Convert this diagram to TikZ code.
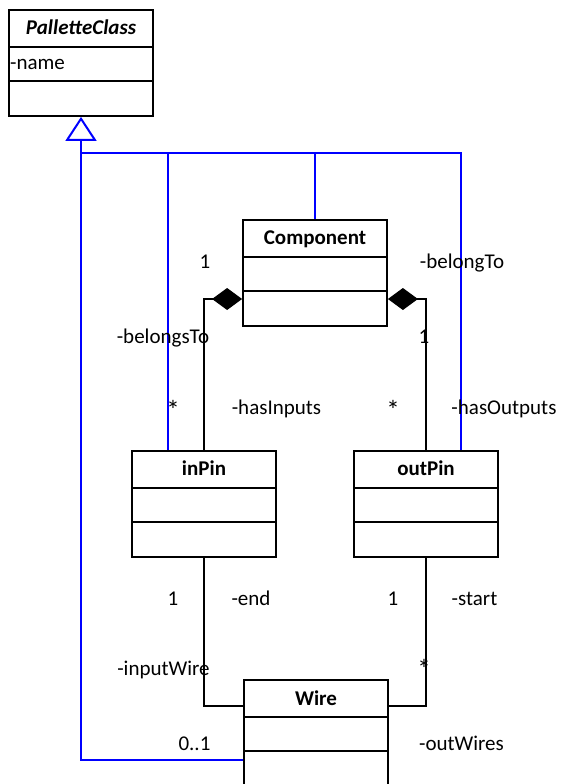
\documentclass[tikz,border=0pt]{standalone}
\usepackage{fontspec}
\setmainfont{Carlito}
\usetikzlibrary{arrows.meta}
\begin{document}
\begin{tikzpicture}[x=1pt,y=-1pt,
  classbox/.style={draw, line width=1.8pt, minimum width=144pt, minimum height=106pt, inner sep=0pt},
  ctitle/.style={font=\fontsize{21pt}{25pt}\selectfont\bfseries, anchor=base, inner sep=0pt},
  lbl/.style={font=\fontsize{21pt}{25pt}\selectfont, anchor=base, inner sep=0pt},
  star/.style={font=\fontsize{27pt}{30pt}\selectfont, anchor=base, inner sep=0pt},
  assoc/.style={line width=1.3pt},
  gen/.style={draw=blue, line width=1.3pt},
  composition/.style={assoc, -{Diamond[length=30pt, width=22pt]}},
  inherit/.style={gen, -{Triangle[open, length=24pt, width=31pt, line width=2pt]}}]
\useasboundingbox (0,0) rectangle (560,784);
\clip (0,0) rectangle (560,784);

% class boxes
\node[classbox] (pal)    at (81,63)   {};
\node[classbox] (comp)   at (315,273) {};
\node[classbox] (inpin)  at (204,504) {};
\node[classbox] (outpin) at (426,504) {};
\node[classbox] (wire)   at (316,733) {};

% compartment dividers
\foreach \c in {pal,comp,inpin,outpin,wire} {
  \draw[line width=1.8pt] ([yshift=-38pt]\c.north west) -- ([yshift=-38pt]\c.north east);
  \draw[line width=1.8pt] ([yshift=-72pt]\c.north west) -- ([yshift=-72pt]\c.north east);
}

% class names and attributes
\node[ctitle, font=\fontsize{21pt}{25pt}\selectfont\bfseries\itshape] (palT) at ([yshift=-25pt]pal.north) {PalletteClass};
\node[lbl, anchor=base west] (palA) at (10,70) {-name};
\node[ctitle] (compT)   at ([yshift=-25pt]comp.north)   {Component};
\node[ctitle] (inpinT)  at ([yshift=-25pt]inpin.north)  {inPin};
\node[ctitle] (outpinT) at ([yshift=-25pt]outpin.north) {outPin};
\node[ctitle] (wireT)   at ([yshift=-26pt]wire.north)   {Wire};

% generalisation tree
\coordinate (bus) at (81,153);
\draw[inherit] ([yshift=-27pt]wire.west) -| (pal.south);
\draw[gen] ([xshift=-36pt]inpin.north) |- (bus);
\draw[gen] (comp.north) |- (bus);
\draw[gen] ([xshift=35pt]outpin.north) |- (bus);

% compositions
\draw[composition] (inpin.north) |- ([yshift=-26pt]comp.west);
\draw[composition] (outpin.north) |- ([yshift=-26pt]comp.east);

% associations with Wire
\draw[assoc] (inpin.south) |- ([yshift=27pt]wire.west);
\draw[assoc] (outpin.south) |- ([yshift=27pt]wire.east);

% role names and multiplicities
\node[lbl] (m1) at (205,268) {1};
\node[lbl] (r1) at (462,268) {-belongTo};
\node[lbl] (r2) at (163,343) {-belongsTo};
\node[lbl] (m2) at (424,343) {1};
\node[star] (m3) at (173,419) {*};
\node[lbl] (r3) at (276.5,414) {-hasInputs};
\node[star] (m4) at (393,419) {*};
\node[lbl] (r4) at (504,414) {-hasOutputs};
\node[lbl] (m5) at (173,605) {1};
\node[lbl] (r5) at (251,605) {-end};
\node[lbl] (m6) at (393,605) {1};
\node[lbl] (r6) at (474.5,605) {-start};
\node[lbl] (r7) at (163.5,675) {-inputWire};
\node[star] (m7) at (424,678) {*};
\node[lbl] (m8) at (194.5,750) {0..1};
\node[lbl] (r8) at (461.5,750) {-outWires};
\end{tikzpicture}
\end{document}
